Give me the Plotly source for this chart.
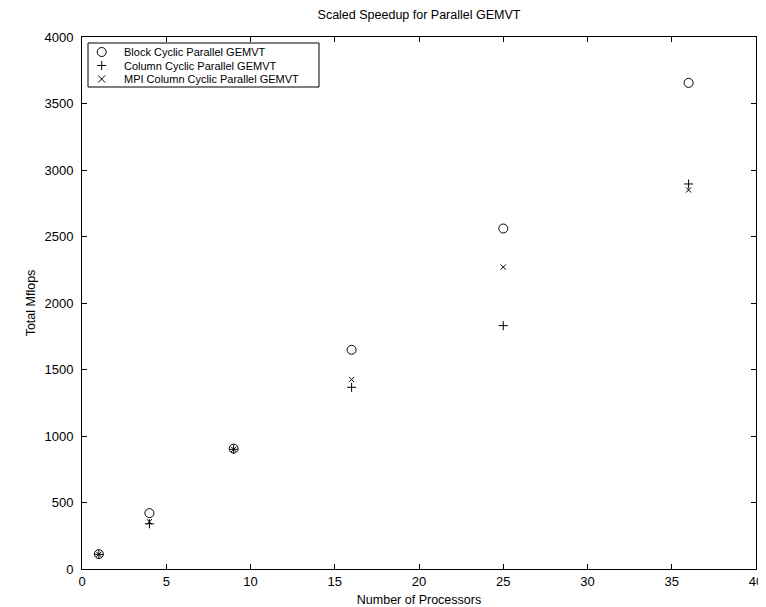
import plotly.graph_objects as go

processors = [1, 4, 9, 16, 25, 36]
block_cyclic = [112, 420, 905, 1648, 2560, 3655]
column_cyclic = [110, 340, 900, 1366, 1830, 2895]
mpi_column_cyclic = [110, 355, 900, 1425, 2270, 2850]

series_names = ["Block Cyclic Parallel GEMVT",
                "Column Cyclic Parallel GEMVT",
                "MPI Column Cyclic Parallel GEMVT"]

x_ticks = [0, 5, 10, 15, 20, 25, 30, 35, 40]
y_ticks = [0, 500, 1000, 1500, 2000, 2500, 3000, 3500, 4000]

font = "Liberation Sans, Arial, Helvetica, sans-serif"

# page has an 8px body margin: figure is drawn at (8, 8)
W, H = 758, 599
ML, MR, MT, MB = 74, 10, 29, 38
PW, PH = W - ML - MR, H - MT - MB

fig = go.Figure()
fig.add_trace(go.Scatter(x=processors, y=block_cyclic, mode="markers",
                         name=series_names[0], showlegend=False,
                         marker=dict(symbol="circle-open", size=9, color="black",
                                     line=dict(width=1, color="black"))))
fig.add_trace(go.Scatter(x=processors, y=column_cyclic, mode="markers",
                         name=series_names[1], showlegend=False,
                         marker=dict(symbol="cross-thin", size=6.5, color="black",
                                     line=dict(width=1, color="black"))))
fig.add_trace(go.Scatter(x=processors, y=mpi_column_cyclic, mode="markers",
                         name=series_names[2], showlegend=False,
                         marker=dict(symbol="x-thin", size=5.2, color="black",
                                     line=dict(width=1, color="black"))))

# custom legend (MATLAB-like compact box)
def px(dx):
    return dx / PW

def py(dy):
    return dy / PH

box_x0, box_x1 = px(6), px(237)
box_y1, box_y0 = 1 - py(6), 1 - py(50)
row_y = [1 - py(15), 1 - py(28.5), 1 - py(42)]
sym_x = px(19.7)
txt_x = px(40)

shapes = [dict(type="rect", xref="paper", yref="paper", x0=box_x0, x1=box_x1,
               y0=box_y0, y1=box_y1, line=dict(color="black", width=1),
               fillcolor="white", layer="above")]
# circle
shapes.append(dict(type="circle", xref="paper", yref="paper",
                   x0=sym_x - px(4.5), x1=sym_x + px(4.5),
                   y0=row_y[0] - py(4.5), y1=row_y[0] + py(4.5),
                   line=dict(color="black", width=1)))
# plus
shapes.append(dict(type="line", xref="paper", yref="paper",
                   x0=sym_x - px(4.5), x1=sym_x + px(4.5), y0=row_y[1], y1=row_y[1],
                   line=dict(color="black", width=1)))
shapes.append(dict(type="line", xref="paper", yref="paper",
                   x0=sym_x, x1=sym_x, y0=row_y[1] - py(4.5), y1=row_y[1] + py(4.5),
                   line=dict(color="black", width=1)))
# cross
shapes.append(dict(type="line", xref="paper", yref="paper",
                   x0=sym_x - px(3.5), x1=sym_x + px(3.5),
                   y0=row_y[2] - py(3.5), y1=row_y[2] + py(3.5),
                   line=dict(color="black", width=1)))
shapes.append(dict(type="line", xref="paper", yref="paper",
                   x0=sym_x - px(3.5), x1=sym_x + px(3.5),
                   y0=row_y[2] + py(3.5), y1=row_y[2] - py(3.5),
                   line=dict(color="black", width=1)))

annotations = [dict(text=name, xref="paper", yref="paper", x=txt_x, y=yy,
                    xanchor="left", yanchor="middle", showarrow=False,
                    font=dict(size=11, color="black", family=font))
               for name, yy in zip(series_names, row_y)]

axis_common = dict(showgrid=False, zeroline=False, showline=True, linecolor="black",
                   linewidth=1, mirror="ticks", ticks="inside", ticklen=5,
                   tickcolor="black", automargin=False,
                   tickfont=dict(size=13, color="black", family=font))

fig.update_layout(
    width=W, height=H,
    margin=dict(l=ML, r=MR, t=MT, b=MB, autoexpand=False),
    paper_bgcolor="white", plot_bgcolor="white",
    font=dict(family=font, color="black", size=12),
    title=dict(text="Scaled Speedup for Parallel GEMVT", x=(ML + PW / 2) / W,
               xanchor="center", xref="container", yref="container",
               y=1.0, yanchor="top", pad=dict(t=2), font=dict(size=12.5)),
    xaxis=dict(range=[0, 40], tickvals=x_ticks,
               title=dict(text="Number of Processors", font=dict(size=12.5), standoff=7),
               **axis_common),
    yaxis=dict(range=[0, 4000], tickvals=y_ticks, ticklabelstandoff=5,
               title=dict(text="Total Mflops", font=dict(size=12.5), standoff=6),
               **axis_common),
    shapes=shapes,
    annotations=annotations,
    showlegend=False,
)

fig.write_html("out.html")
